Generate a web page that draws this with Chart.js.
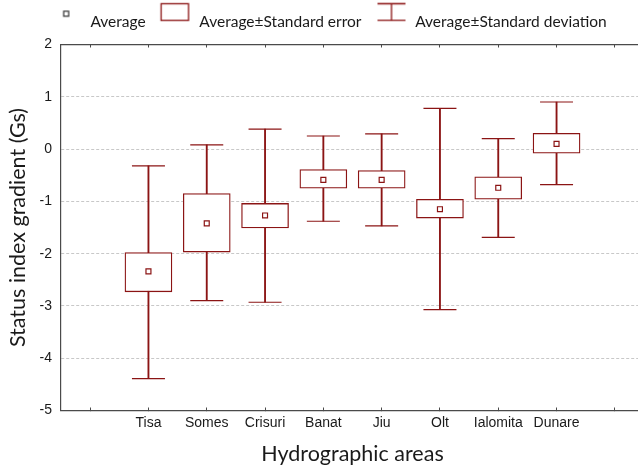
<!DOCTYPE html>
<html>
<head>
<meta charset="utf-8">
<script src="https://cdn.jsdelivr.net/npm/chart.js@4.4.1/dist/chart.umd.min.js"></script>
<style>
  html, body { margin: 0; padding: 0; background: #fff; overflow: hidden; width: 638px; height: 467px; }
  canvas { display: block; }
</style>
</head>
<body>
<canvas id="chart" width="644" height="467"></canvas>
<script>
// hydrographic areas, placed at x = 1..8 on the linear axis
const areas   = ['Tisa', 'Somes', 'Crisuri', 'Banat', 'Jiu', 'Olt', 'Ialomita', 'Dunare'];
const areaPos = [1, 2, 3, 4, 5, 6, 7, 8];
const xTickPos = [0, 1, 2, 3, 4, 5, 6, 7, 8, 9];

const avg    = [-2.34, -1.42, -1.27, -0.59, -0.59, -1.15, -0.74,  0.10];
const seLow  = [-2.73, -1.97, -1.51, -0.75, -0.75, -1.32, -0.96, -0.08];
const seHigh = [-1.98, -0.85, -1.04, -0.39, -0.41, -0.96, -0.53,  0.30];
const sdLow  = [-4.39, -2.90, -2.93, -1.38, -1.47, -3.07, -1.69, -0.68];
const sdHigh = [-0.32,  0.08,  0.38,  0.25,  0.29,  0.78,  0.20,  0.90];

const legendText = ['Average', 'Average±Standard error', 'Average±Standard deviation'];

const RED = '#8b1414';
const AXIS = '#4a4a4a';
const TXT = '#1a1a1a';

Chart.defaults.font.family = "'Liberation Sans', Arial, sans-serif";

function icon(draw) {
  const c = document.createElement('canvas');
  c.width = 48; c.height = 40;
  const g = c.getContext('2d');
  g.lineWidth = 1.3; g.strokeStyle = RED; g.fillStyle = '#fff';
  draw(g);
  return c;
}
// icons are 48 wide, centred on the 40px legend box
const legendIcons = [
  icon(g => { g.strokeStyle = '#333'; g.lineWidth = 1.2; g.fillRect(25, 9, 5, 5); g.strokeRect(25, 9, 5, 5); }),
  icon(g => { g.strokeRect(13.5, 1.5, 27.4, 16.7); }),
  icon(g => {
    g.beginPath();
    g.moveTo(14, 1.5); g.lineTo(42, 1.5);
    g.moveTo(28, 1.5); g.lineTo(28, 18.2);
    g.moveTo(14, 18.2); g.lineTo(42, 18.2);
    g.stroke();
  })
];

// force legend block height so the plot top sits where the original does
const fixLegend = {
  id: 'fixLegend',
  beforeLayout(chart) {
    const lg = chart.legend;
    if (lg && !lg._fixed) {
      const fit = lg.fit;
      lg.fit = function () { fit.call(this); this.height = 44.5; };
      lg._fixed = true;
    }
  }
};

const setTicks = s => { s.ticks = xTickPos.map(v => ({ value: v })); };

new Chart(document.getElementById('chart'), {
  type: 'bar',
  data: {
    datasets: [
      { type: 'scatter', label: 'Average',
        data: areaPos.map((x, i) => ({ x, y: avg[i] })),
        pointStyle: 'rect', radius: 3.5, borderWidth: 1.2,
        borderColor: RED, backgroundColor: '#fff', order: 0 },
      { type: 'bar', label: 'SE',
        data: areaPos.map((x, i) => ({ x, y: [seLow[i], seHigh[i]] })),
        barThickness: 47, grouped: false, borderSkipped: false,
        backgroundColor: '#fff', borderColor: RED, borderWidth: 1.3, order: 1 },
      { type: 'scatter', label: 'caps',
        data: areaPos.flatMap((x, i) => [{ x, y: sdLow[i] }, { x, y: sdHigh[i] }]),
        pointStyle: 'line', radius: 16.5, borderWidth: 1.2,
        borderColor: RED, order: 2 },
      { type: 'bar', label: 'SD',
        data: areaPos.map((x, i) => ({ x, y: [sdLow[i], sdHigh[i]] })),
        barThickness: 1.2, grouped: false, borderWidth: 0,
        backgroundColor: RED, order: 3 }
    ]
  },
  options: {
    responsive: false, animation: false, events: [],
    layout: { autoPadding: false, padding: { left: 5.4, top: 0, right: 0, bottom: 0 } },
    plugins: {
      tooltip: { enabled: false },
      legend: {
        position: 'top',
        title: { display: true, text: '', font: { size: 8, lineHeight: 1 }, padding: { top: 0.5, bottom: 0 } },
        labels: {
          usePointStyle: true, pointStyleWidth: 40, padding: 6,
          color: TXT, font: { family: 'Lato', size: 15.5 },
          generateLabels: () => legendText.map((t, i) => ({
            text: t, pointStyle: legendIcons[i], fillStyle: '#fff',
            strokeStyle: RED, lineWidth: 0, hidden: false, fontColor: TXT, datasetIndex: i
          }))
        }
      }
    },
    scales: {
      x: {
        type: 'linear', position: 'bottom', min: -0.5, max: 9.5, offset: false,
        afterBuildTicks: setTicks,
        afterFit: s => { s.height = 56.5; },
        ticks: {
          autoSkip: false, maxRotation: 0, padding: 7, color: TXT,
          font: { size: 14 },
          callback: v => areas[areaPos.indexOf(v)] || ''
        },
        grid: { drawOnChartArea: false, drawTicks: true, tickLength: -3, tickColor: AXIS, offset: false },
        border: { color: AXIS, width: 1.2 },
        title: { display: true, text: 'Hydrographic areas', color: TXT,
                 font: { family: 'Lato', size: 21.5 }, padding: { top: 0, bottom: 0 } }
      },
      x2: {
        type: 'linear', position: 'top', min: -0.5, max: 9.5, offset: false,
        afterBuildTicks: setTicks,
        afterFit: s => { s.height = 0; },
        ticks: { display: false },
        grid: { drawOnChartArea: false, drawTicks: true, tickLength: -3, tickColor: AXIS, offset: false },
        border: { color: AXIS, width: 1.2 }
      },
      y: {
        min: -5, max: 2,
        afterFit: s => { s.width = 55.6; },
        ticks: { stepSize: 1, padding: 9, color: TXT, font: { size: 14 } },
        grid: { color: '#c8c8c8', lineWidth: 1, drawTicks: false },
        border: { color: AXIS, width: 1.2, dash: [3, 2] },
        title: { display: true, text: 'Status index gradient (Gs)', color: TXT,
                 font: { family: 'Lato', size: 21.5 }, padding: { top: 0, bottom: 0 } }
      }
    }
  },
  plugins: [fixLegend]
});
</script>
</body>
</html>
